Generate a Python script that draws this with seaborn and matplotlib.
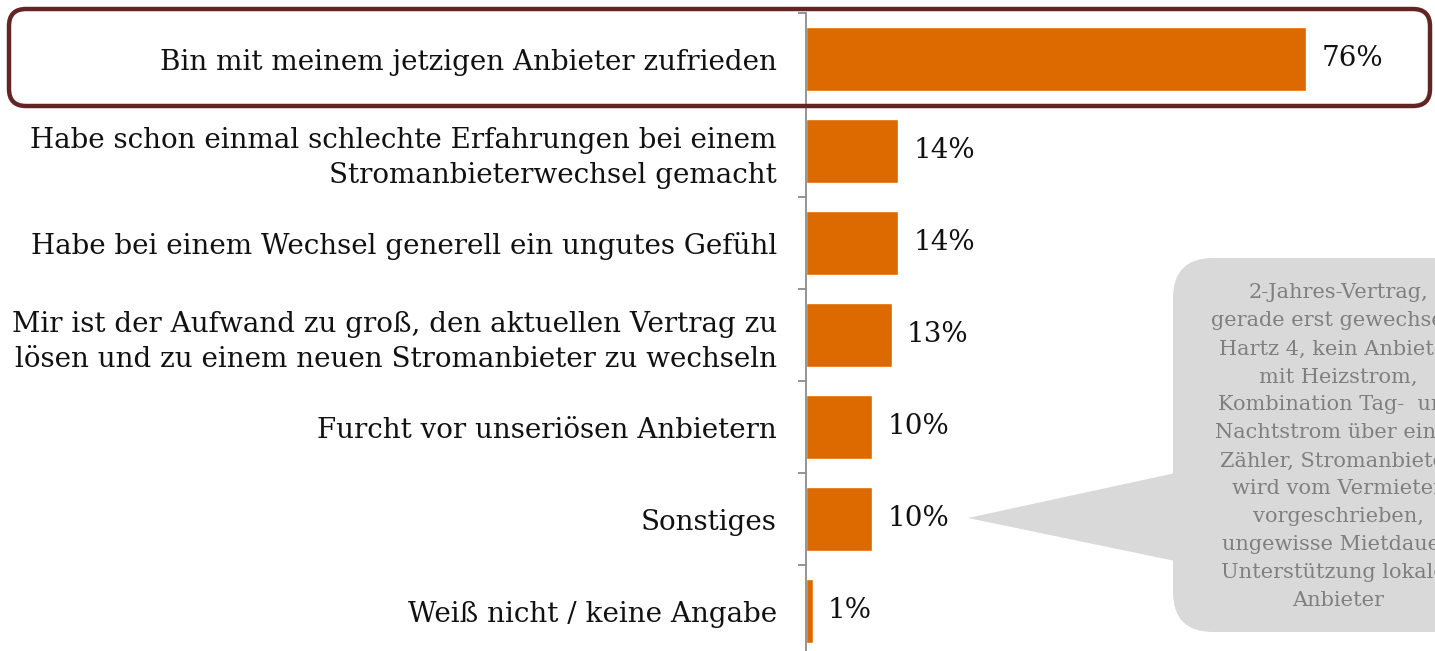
import matplotlib
matplotlib.use("Agg")
import matplotlib.pyplot as plt
import seaborn as sns
import pandas as pd
from matplotlib.patches import FancyBboxPatch, Polygon

categories = [
    "Bin mit meinem jetzigen Anbieter zufrieden",
    "Habe schon einmal schlechte Erfahrungen bei einem\nStromanbieterwechsel gemacht",
    "Habe bei einem Wechsel generell ein ungutes Gefühl",
    "Mir ist der Aufwand zu groß, den aktuellen Vertrag zu\nlösen und zu einem neuen Stromanbieter zu wechseln",
    "Furcht vor unseriösen Anbietern",
    "Sonstiges",
    "Weiß nicht / keine Angabe",
]
values = [76, 14, 14, 13, 10, 10, 1]
value_labels = ["76%", "14%", "14%", "13%", "10%", "10%", "1%"]
callout_lines = [
    "2-Jahres-Vertrag,",
    "gerade erst gewechselt,",
    "Hartz 4, kein Anbieter",
    "mit Heizstrom,",
    "Kombination Tag-  und",
    "Nachtstrom über einen",
    "Zähler, Stromanbieter",
    "wird vom Vermieter",
    "vorgeschrieben,",
    "ungewisse Mietdauer,",
    "Unterstützung lokaler",
    "Anbieter",
]

sns.set_theme(style="white")
plt.rcParams["font.family"] = ["DejaVu Serif"]

W, H = 1435, 651
fig = plt.figure(figsize=(W / 100, H / 100), dpi=100)
ax_left, ax_top, ax_bottom = 806, 13, 657
ax = fig.add_axes([ax_left / W, 1 - ax_bottom / H, (W - ax_left) / W, (ax_bottom - ax_top) / H])

df = pd.DataFrame({"cat": categories, "val": values})
sns.barplot(data=df, x="val", y="cat", orient="h", color="#DC6A00", saturation=1,
            width=0.7, ax=ax)
px_per_unit = 6.58
ax.set_xlim(0, (W - ax_left) / px_per_unit)
ax.set_ylim(6.5, -0.5)

for i, (v, lab) in enumerate(zip(values, value_labels)):
    ax.annotate(lab, xy=(v, i), xytext=(11, 0), textcoords="offset points",
                ha="left", va="center", fontsize=20, color="#111111")

for s in ["top", "right", "bottom"]:
    ax.spines[s].set_visible(False)
ax.spines["left"].set_color("#8C8C8C")
ax.spines["left"].set_linewidth(1.3)
ax.set_xticks([])
ax.set_yticks(range(len(categories)))
ax.set_yticklabels(categories, fontsize=20, color="#111111", linespacing=1.36)
ax.set_yticks([i - 0.5 for i in range(len(categories) + 1)], minor=True)
ax.tick_params(axis="y", which="major", length=0, pad=21)
ax.tick_params(axis="y", which="minor", left=True, length=6, width=1.3, color="#8C8C8C")
ax.set_xlabel("")
ax.set_ylabel("")

tr = fig.dpi_scale_trans
def P(x, y):
    return (x / 100, (H - y) / 100)

# highlight frame around first row
hl = FancyBboxPatch(P(9, 106), (1430 - 9) / 100, (106 - 9) / 100,
                    boxstyle="round,pad=0,rounding_size=0.17",
                    transform=tr, fill=False, edgecolor="#632523", linewidth=3.2, zorder=5)
fig.add_artist(hl)

# callout bubble
gray = "#D9D9D9"
tri = Polygon([P(968, 518), P(1180, 472), P(1180, 562)], closed=True,
              transform=tr, facecolor=gray, edgecolor="none", zorder=4)
fig.add_artist(tri)
box = FancyBboxPatch(P(1173, 632), (1505 - 1173) / 100, (632 - 258) / 100,
                     boxstyle="round,pad=0,rounding_size=0.4",
                     transform=tr, facecolor=gray, edgecolor="none", zorder=4)
fig.add_artist(box)
fig.text(1338 / W, 1 - 447 / H, "\n".join(callout_lines), ha="center", va="center",
         fontsize=15, color="#7F7F7F", linespacing=1.6, zorder=6)

fig.savefig("out.png", dpi=100)
